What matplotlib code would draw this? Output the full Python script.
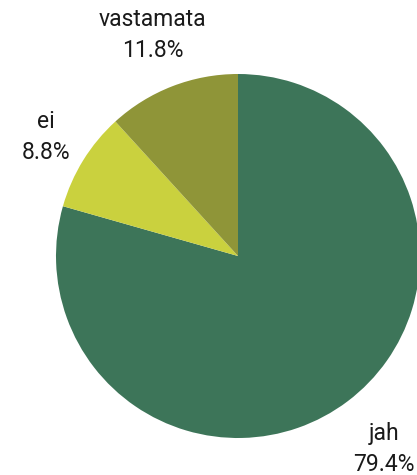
import numpy as np
import matplotlib
matplotlib.use("Agg")
import matplotlib.pyplot as plt

plt.rcParams['font.family'] = ['Roboto', 'DejaVu Sans']

# Answer counts (27 + 3 + 4 = 34 respondents)
labels = ['jah', 'ei', 'vastamata']
counts = [27, 3, 4]
colors = ['#3d7559', '#cad13e', '#8f9538']
label_dist = [1.33, 1.24, 1.30]

fig = plt.figure(figsize=(4.17, 4.75), dpi=100)
ax = fig.add_axes([56 / 417, 37 / 475, 364 / 417, 364 / 475])

wedges, _ = ax.pie(counts, colors=colors, startangle=90, counterclock=False,
                   radius=1.0, wedgeprops=dict(linewidth=0))
ax.set_xlim(-1, 1)
ax.set_ylim(-1, 1)
ax.set_aspect('equal')
ax.axis('off')

total = sum(counts)
for w, lab, c, d in zip(wedges, labels, counts, label_dist):
    ang = np.deg2rad((w.theta1 + w.theta2) / 2)
    x, y = d * np.cos(ang), d * np.sin(ang)
    ax.text(x, y, f"{lab}\n{100 * c / total:.1f}%", ha='center', va='center',
            multialignment='center', fontsize=16.5, color='#1a1a1a',
            linespacing=1.45, clip_on=False)

fig.savefig('out.png', dpi=100)
